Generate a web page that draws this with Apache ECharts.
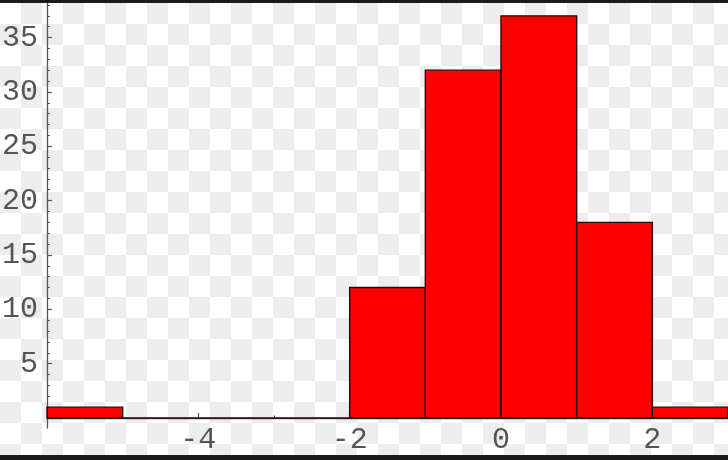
<!DOCTYPE html>
<html>
<head>
<meta charset="utf-8">
<script src="https://cdn.jsdelivr.net/npm/echarts@6/dist/echarts.min.js"></script>
<style>
  html, body { margin: 0; padding: 0; }
  #wrap { position: relative; width: 728px; height: 460px; overflow: hidden;
    background: repeating-conic-gradient(#ededed 0 25%, #ffffff 0 50%) 0 3px / 42px 42px; }
  #chart { position: absolute; left: 0; top: 0; width: 728px; height: 460px; }
  .bar { position: absolute; left: 0; width: 728px; background: #1b1b1b; z-index: 5; }
</style>
</head>
<body>
<div id="wrap">
  <div id="chart"></div>
  <div class="bar" style="top:0;height:3px"></div>
  <div class="bar" style="top:455px;height:5px"></div>
</div>
<script>
// Histogram bins (left edge), counts and bin width
const binStarts = [-6, -5, -4, -3, -2, -1, 0, 1, 2];
const counts = [1, 0, 0, 0, 12, 32, 37, 18, 1];
const binWidth = 1;

// Tick values
const xTicks = [-4, -2, 0, 2];
const xMinorTicks = [-5, -3, -1, 1];
const yTicks = [5, 10, 15, 20, 25, 30, 35];
const yMinorTicks = [1, 2, 3, 4, 6, 7, 8, 9, 11, 12, 13, 14, 16, 17, 18, 19, 21, 22, 23, 24, 26, 27, 28, 29, 31, 32, 33, 34, 36, 37, 38];

const data = binStarts.map((s, i) => [s, s + binWidth, counts[i]]);

const axisColor = '#555555';
const labelFont = { color: '#555555', fontFamily: 'Liberation Mono', fontSize: 30 };

const chart = echarts.init(document.getElementById('chart'), null, { renderer: 'canvas' });
chart.setOption({
  animation: false,
  grid: { left: 47, right: 0, top: 3, bottom: 32, containLabel: false, outerBoundsMode: 'none' },
  xAxis: [
    {
      type: 'value', min: -6, max: 3, position: 'bottom',
      splitLine: { show: false },
      axisLine: { show: true, onZero: true, lineStyle: { color: axisColor, width: 1.3 } },
      axisTick: { show: true, inside: true, length: 5, customValues: xTicks, lineStyle: { color: axisColor, width: 1.2 } },
      axisLabel: { show: true, customValues: xTicks, margin: -3, ...labelFont, formatter: v => String(v) }
    },
    {
      type: 'value', min: -6, max: 3, position: 'bottom',
      splitLine: { show: false },
      axisLine: { show: false, onZero: true },
      axisTick: { show: true, inside: true, length: 2.5, customValues: xMinorTicks, lineStyle: { color: axisColor, width: 1 } },
      axisLabel: { show: false }
    }
  ],
  yAxis: [
    {
      type: 'value', min: -0.92, max: 38.18, position: 'left',
      splitLine: { show: false },
      axisLine: { show: true, onZero: false, lineStyle: { color: axisColor, width: 1.3 } },
      axisTick: { show: true, inside: true, length: 5, customValues: yTicks, lineStyle: { color: axisColor, width: 1.2 } },
      axisLabel: { show: true, customValues: yTicks, margin: 9, ...labelFont }
    },
    {
      type: 'value', min: -0.92, max: 38.18, position: 'left', offset: 0,
      splitLine: { show: false },
      axisLine: { show: false, onZero: false },
      axisTick: { show: true, inside: true, length: 3, customValues: yMinorTicks, lineStyle: { color: axisColor, width: 1 } },
      axisLabel: { show: false }
    }
  ],
  series: [{
    type: 'custom',
    xAxisIndex: 0, yAxisIndex: 0,
    encode: { x: [0, 1], y: 2 },
    data: data,
    renderItem: function (params, api) {
      const p0 = api.coord([api.value(0), api.value(2)]);
      const p1 = api.coord([api.value(1), 0]);
      return {
        type: 'rect',
        shape: { x: p0[0], y: p0[1], width: p1[0] - p0[0], height: p1[1] - p0[1] },
        style: { fill: '#ff0000', stroke: '#2a0808', lineWidth: 1.4 }
      };
    }
  }]
});
</script>
</body>
</html>
